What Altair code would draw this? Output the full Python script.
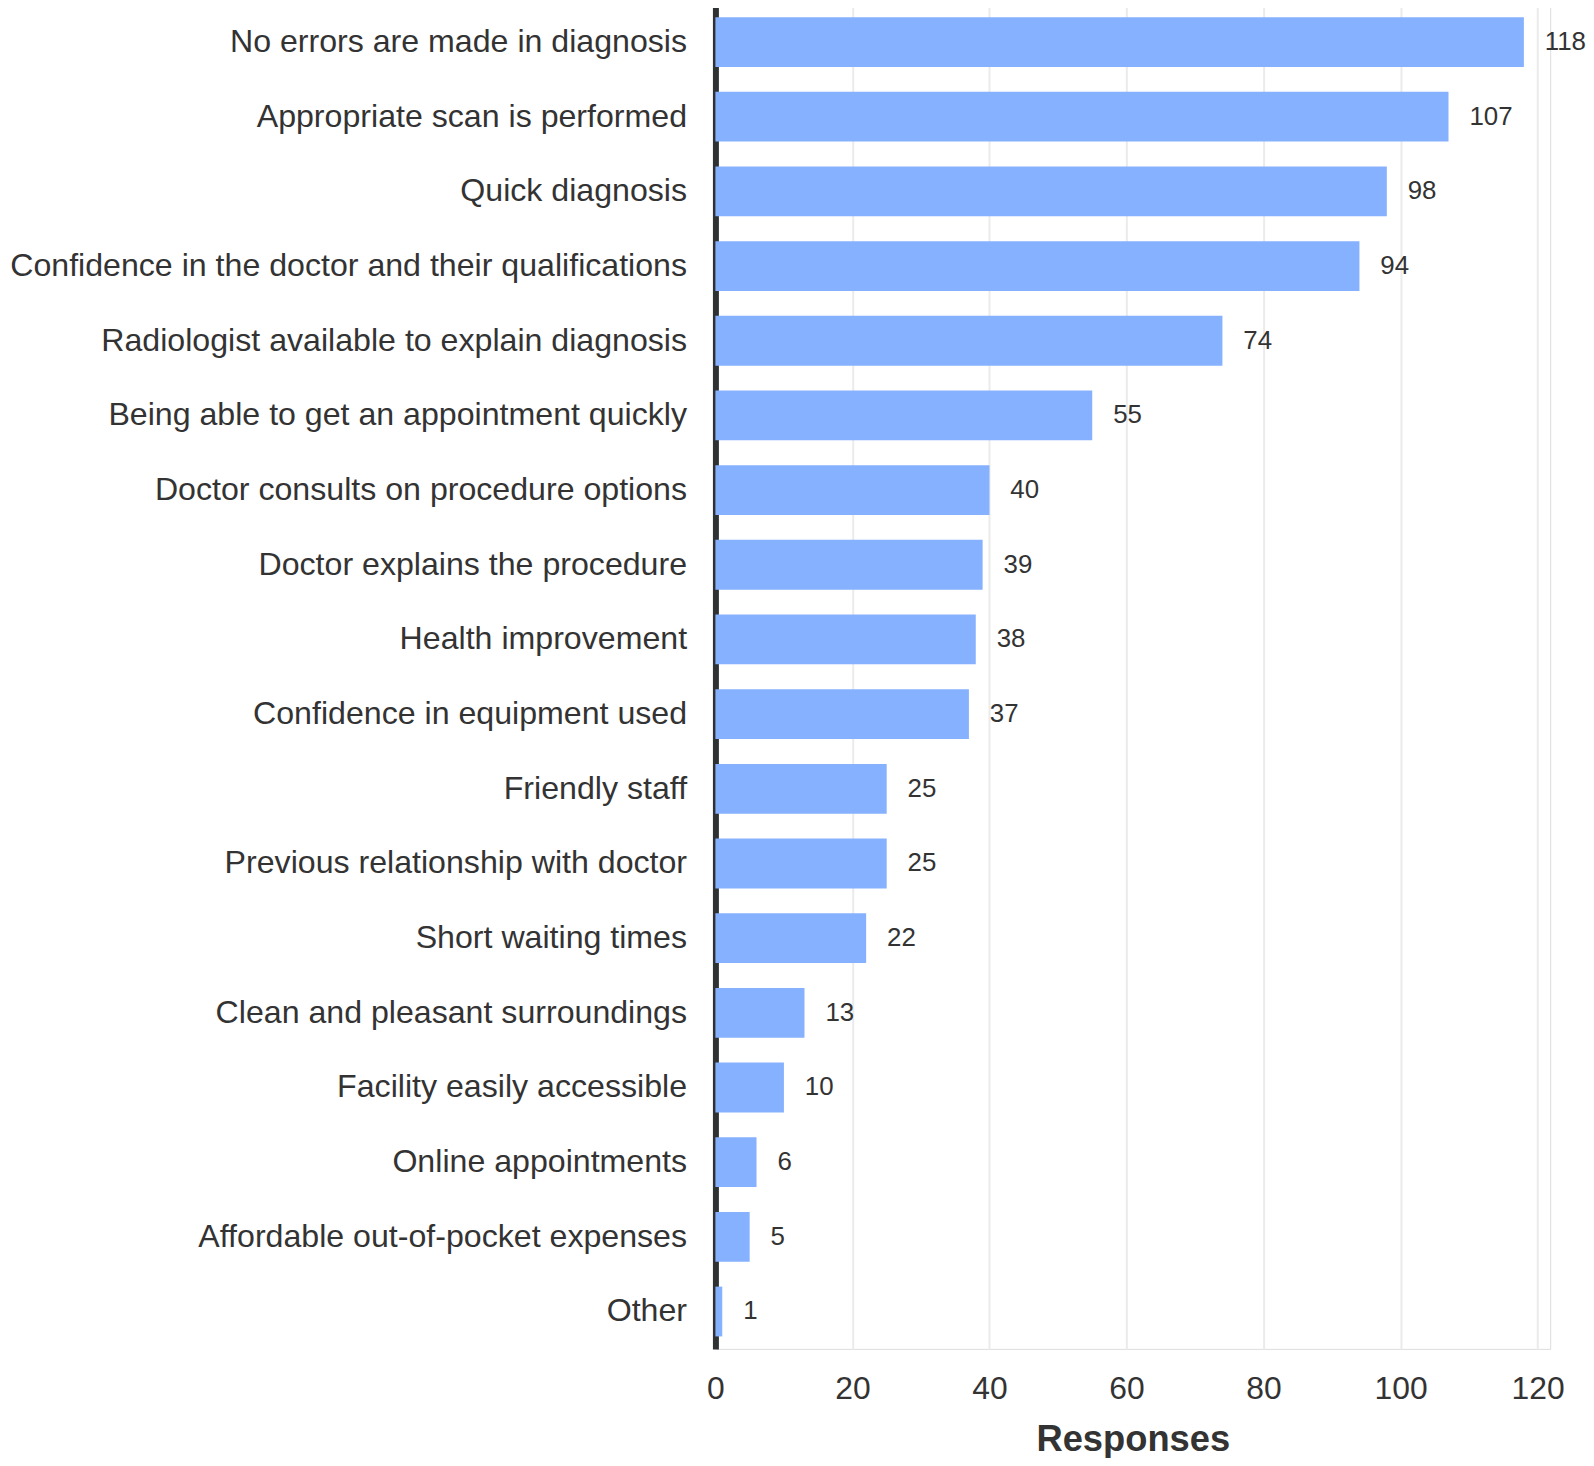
import altair as alt
import pandas as pd

categories = [
    "No errors are made in diagnosis",
    "Appropriate scan is performed",
    "Quick diagnosis",
    "Confidence in the doctor and their qualifications",
    "Radiologist available to explain diagnosis",
    "Being able to get an appointment quickly",
    "Doctor consults on procedure options",
    "Doctor explains the procedure",
    "Health improvement",
    "Confidence in equipment used",
    "Friendly staff",
    "Previous relationship with doctor",
    "Short waiting times",
    "Clean and pleasant surroundings",
    "Facility easily accessible",
    "Online appointments",
    "Affordable out-of-pocket expenses",
    "Other",
]
responses = [118, 107, 98, 94, 74, 55, 40, 39, 38, 37, 25, 25, 22, 13, 10, 6, 5, 1]
x_ticks = [0, 20, 40, 60, 80, 100, 120]

df = pd.DataFrame({"category": categories, "responses": responses})

FONT = "Liberation Sans, Arial, Helvetica, sans-serif"
TEXT = "#333333"

y_enc = alt.Y(
    "category:N",
    sort=categories,
    title=None,
    scale=alt.Scale(paddingInner=0.333, paddingOuter=0.1667),
    axis=alt.Axis(
        labelFontSize=32.3,
        labelFont=FONT,
        labelColor=TEXT,
        labelPadding=29,
        labelLimit=800,
        ticks=False,
        tickSize=0,
        domain=True,
        domainColor="#2E3233",
        domainWidth=6,
        grid=False,
    ),
)

x_enc = alt.X(
    "responses:Q",
    title="Responses",
    scale=alt.Scale(domain=[0, 121.84], nice=False, zero=True),
    axis=alt.Axis(
        values=x_ticks,
        labelFontSize=32,
        labelFont=FONT,
        labelColor=TEXT,
        labelPadding=25,
        labelFlush=False,
        ticks=False,
        tickSize=0,
        domain=False,
        grid=True,
        gridColor="#EBEBEB",
        gridWidth=2,
        titleFontSize=36.5,
        titleFont=FONT,
        titleFontWeight="bold",
        titleColor=TEXT,
        titlePadding=17,
    ),
)

bars = alt.Chart(df).mark_bar(color="#86B1FF").encode(x=x_enc, y=y_enc)

labels = alt.Chart(df).mark_text(
    align="left", baseline="middle", dx=21, fontSize=26, font=FONT, color=TEXT
).encode(
    x=alt.X("responses:Q"),
    y=alt.Y("category:N", sort=categories),
    text=alt.Text("responses:Q"),
)

chart = (
    alt.layer(bars, labels)
    .properties(
        width=839,
        height=1351,
        autosize=alt.AutoSizeParams(type="none"),
        padding={"left": 711, "top": -7, "right": 36, "bottom": 106},
    )
    .configure_view(stroke=None)
    .configure(background="white")
)

chart.save("out.html", embed_options={"renderer": "svg", "actions": False})
